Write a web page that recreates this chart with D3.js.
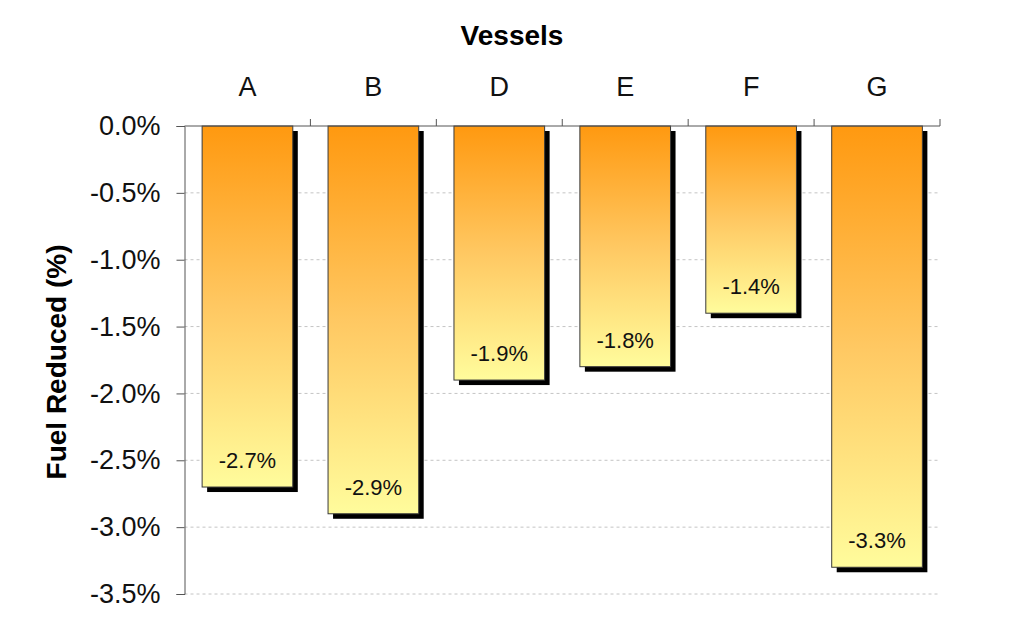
<!DOCTYPE html>
<html>
<head>
<meta charset="utf-8">
<script src="https://cdn.jsdelivr.net/npm/d3@7"></script>
<style>
  body { margin: 0; background: #fff; }
  svg text { font-family: "Liberation Sans", Arial, sans-serif; }
</style>
</head>
<body>
<div class="svg-container"></div>
<script>
const vessels = ['A', 'B', 'D', 'E', 'F', 'G']
const fuelReduced = [-2.7, -2.9, -1.9, -1.8, -1.4, -3.3]
const yTicks = [0, -0.5, -1.0, -1.5, -2.0, -2.5, -3.0, -3.5]

const width = 1024
const height = 627
const margin = { top: 126, right: 84, bottom: 33, left: 184.5 }

const data = vessels.map((v, i) => ({ vessel: v, value: fuelReduced[i] }))

const svg = d3.select('.svg-container').append('svg')
    .attr('width', width)
    .attr('height', height)

const defs = svg.append('defs')
const grad = defs.append('linearGradient')
    .attr('id', 'barGrad')
    .attr('x1', 0).attr('y1', 0)
    .attr('x2', 0).attr('y2', 1)
grad.append('stop').attr('offset', '0%').attr('stop-color', '#ff9910')
grad.append('stop').attr('offset', '50%').attr('stop-color', '#ffc862')
grad.append('stop').attr('offset', '100%').attr('stop-color', '#fffc9c')

const y = d3.scaleLinear()
    .domain([0, -3.5])
    .range([margin.top, height - margin.bottom])

const x = d3.scaleBand()
    .domain(vessels)
    .range([margin.left, width - margin.right])
    .paddingInner(0.28)
    .paddingOuter(0.14)

// gridlines
svg.append('g')
    .selectAll('line')
    .data(yTicks.filter(t => t !== 0))
    .enter()
    .append('line')
    .attr('x1', margin.left)
    .attr('x2', width - margin.right)
    .attr('y1', d => y(d))
    .attr('y2', d => y(d))
    .attr('stroke', '#c4c4c4')
    .attr('stroke-width', 1)
    .attr('stroke-dasharray', '3,3')

// shadows
const bars = svg.append('g')
bars.selectAll('rect.shadow')
    .data(data)
    .enter()
    .append('rect')
    .attr('class', 'shadow')
    .attr('x', d => x(d.vessel) + 5)
    .attr('y', d => y(0) + 5)
    .attr('width', x.bandwidth())
    .attr('height', d => y(d.value) - y(0))
    .style('fill', '#000')

bars.selectAll('rect.bar')
    .data(data)
    .enter()
    .append('rect')
    .attr('class', 'bar')
    .attr('x', d => x(d.vessel))
    .attr('y', y(0))
    .attr('width', x.bandwidth())
    .attr('height', d => y(d.value) - y(0))
    .style('fill', 'url(#barGrad)')
    .style('stroke', '#3a3a3a')
    .style('stroke-width', 1)

bars.selectAll('text.val')
    .data(data)
    .enter()
    .append('text')
    .attr('class', 'val')
    .attr('x', d => x(d.vessel) + x.bandwidth() / 2)
    .attr('y', d => y(d.value) - 19)
    .attr('text-anchor', 'middle')
    .style('font-size', '22px')
    .style('fill', '#111')
    .text(d => d.value.toFixed(1) + '%')

// y axis
const axeY = d3.axisLeft(y)
    .tickValues(yTicks)
    .tickSize(8)
    .tickPadding(16)
    .tickFormat(d => (d === 0 ? '0.0' : d.toFixed(1)) + '%')

const groupY = svg.append('g')
    .attr('transform', `translate(${margin.left},0)`)
    .call(axeY)
groupY.select('.domain').attr('stroke', '#555')
groupY.selectAll('.tick line').attr('stroke', '#555')
groupY.selectAll('.tick text')
    .style('font-size', '27px')
    .style('fill', '#111')

// top axis line and boundary ticks
const groupX = svg.append('g')
groupX.append('line')
    .attr('x1', margin.left)
    .attr('x2', width - margin.right)
    .attr('y1', y(0))
    .attr('y2', y(0))
    .attr('stroke', '#555')

const bounds = vessels.map(v => x(v) - x.step() * x.paddingOuter()).slice(1)
bounds.push(width - margin.right)
groupX.selectAll('line.tk')
    .data(bounds)
    .enter()
    .append('line')
    .attr('class', 'tk')
    .attr('x1', d => d)
    .attr('x2', d => d)
    .attr('y1', y(0))
    .attr('y2', y(0) - 7)
    .attr('stroke', '#555')

groupX.selectAll('text')
    .data(vessels)
    .enter()
    .append('text')
    .attr('x', d => x(d) + x.bandwidth() / 2)
    .attr('y', 96)
    .attr('text-anchor', 'middle')
    .style('font-size', '27px')
    .style('fill', '#111')
    .text(d => d)

// titles
svg.append('text')
    .attr('x', 512)
    .attr('y', 45)
    .attr('text-anchor', 'middle')
    .style('font-size', '28px')
    .style('font-weight', 'bold')
    .text('Vessels')

svg.append('text')
    .attr('transform', 'translate(66,362) rotate(-90)')
    .attr('text-anchor', 'middle')
    .style('font-size', '28px')
    .style('font-weight', 'bold')
    .text('Fuel Reduced (%)')
</script>
</body>
</html>
